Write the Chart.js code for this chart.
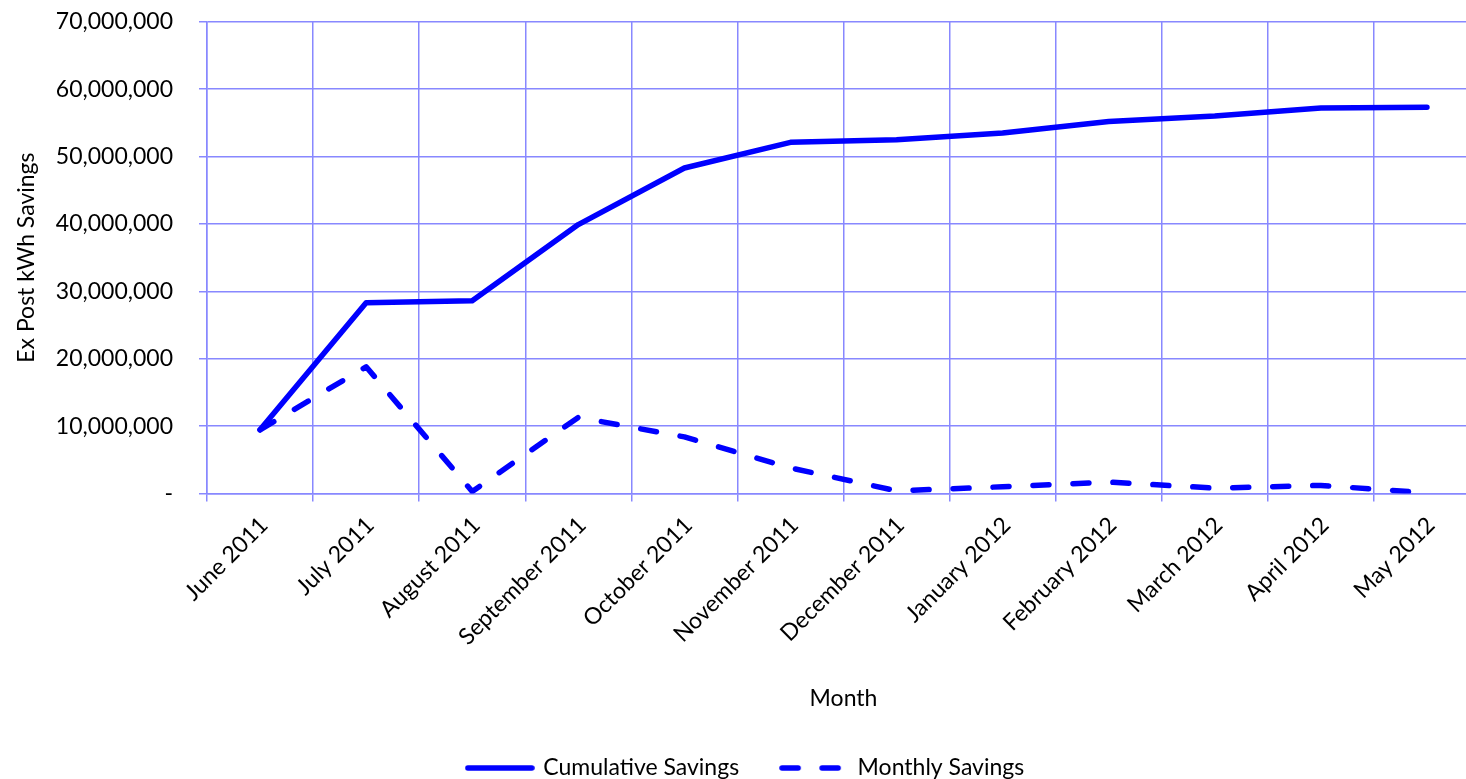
<!DOCTYPE html>
<html>
<head>
<meta charset="utf-8">
<script src="https://cdn.jsdelivr.net/npm/chart.js@4/dist/chart.umd.min.js"></script>
<style>
  html, body { margin: 0; padding: 0; background: #fff; overflow: hidden; }
  #wrap { width: 1466px; height: 779px; overflow: hidden; position: relative; }
  canvas { display: block; }
</style>
</head>
<body>
<div id="wrap"><canvas id="c" width="1490" height="779"></canvas></div>
<script>
// Monthly program savings, June 2011 - May 2012 (kWh)
const months = [
  'June 2011', 'July 2011', 'August 2011', 'September 2011', 'October 2011',
  'November 2011', 'December 2011', 'January 2012', 'February 2012',
  'March 2012', 'April 2012', 'May 2012'
];
const cumulativeSavings = [
  9450000, 28300000, 28600000, 39900000, 48300000, 52100000,
  52500000, 53500000, 55200000, 56000000, 57200000, 57300000
];
const monthlySavings = [
  9450000, 18800000, 300000, 11300000, 8400000, 3800000,
  400000, 1000000, 1700000, 800000, 1200000, 100000
];
const yAxisMax = 70000000;
const yAxisStep = 10000000;

const FONT = 'Lato, "Open Sans", sans-serif';
const FONT_SIZE = 23;
const GRID = '#8888ff';
const LINE = '#0000ff';
const LINE_WIDTH = 5.5;
const DASH = [16, 24];

// Small line sample used as the legend symbol for a series
function lineSample(dash) {
  const c = document.createElement('canvas');
  c.width = 70;
  c.height = 10;
  const g = c.getContext('2d');
  g.strokeStyle = LINE;
  g.lineWidth = LINE_WIDTH;
  g.lineCap = 'round';
  g.setLineDash(dash);
  g.beginPath();
  g.moveTo(3, 5);
  g.lineTo(67, 5);
  g.stroke();
  return c;
}

new Chart(document.getElementById('c'), {
  type: 'line',
  data: {
    labels: months,
    datasets: [
      {
        label: 'Cumulative Savings',
        data: cumulativeSavings,
        borderColor: LINE,
        backgroundColor: LINE,
        borderWidth: LINE_WIDTH,
        borderCapStyle: 'round',
        borderJoinStyle: 'round',
        pointRadius: 0,
        pointStyle: lineSample([]),
        tension: 0
      },
      {
        label: 'Monthly Savings',
        data: monthlySavings,
        borderColor: LINE,
        backgroundColor: LINE,
        borderWidth: LINE_WIDTH,
        borderDash: DASH,
        borderCapStyle: 'round',
        borderJoinStyle: 'round',
        pointRadius: 0,
        pointStyle: lineSample(DASH),
        tension: 0
      }
    ]
  },
  options: {
    responsive: false,
    animation: false,
    devicePixelRatio: 1,
    layout: { padding: { left: 12, right: 10, top: 21.7, bottom: -10.5 } },
    plugins: {
      tooltip: { enabled: false },
      legend: {
        position: 'bottom',
        labels: {
          usePointStyle: true,
          pointStyleWidth: 64,
          padding: 43,
          color: '#000',
          font: { family: FONT, size: FONT_SIZE }
        }
      }
    },
    scales: {
      x: {
        offset: true,
        grid: { offset: true, color: GRID, lineWidth: 1.5, tickLength: 8, drawOnChartArea: true },
        border: { color: GRID, width: 1.5 },
        ticks: {
          color: '#000',
          font: { family: FONT, size: FONT_SIZE },
          maxRotation: 45,
          minRotation: 45,
          autoSkip: false,
          padding: 10,
          labelOffset: 4
        },
        title: {
          display: true,
          text: 'Month',
          color: '#000',
          font: { family: FONT, size: FONT_SIZE },
          padding: { top: 4, bottom: 1 }
        },
        afterFit: (scale) => { scale.height = 220; }
      },
      y: {
        min: 0,
        max: yAxisMax,
        grid: { color: GRID, lineWidth: 1.5, tickLength: 8 },
        border: { color: GRID, width: 1.5 },
        ticks: {
          stepSize: yAxisStep,
          color: '#000',
          padding: 26,
          font: { family: FONT, size: FONT_SIZE },
          callback: (v) => v === 0 ? '-' : v.toLocaleString('en-US')
        },
        title: {
          display: true,
          text: 'Ex Post kWh Savings',
          color: '#000',
          font: { family: FONT, size: FONT_SIZE },
          padding: { top: 1, bottom: 4 }
        },
        afterFit: (scale) => {
          scale.width = 195;
          // the layout padding already leaves room for the end labels
          scale.paddingTop = 0;
          scale.paddingBottom = 0;
        }
      }
    }
  }
});
</script>
</body>
</html>
